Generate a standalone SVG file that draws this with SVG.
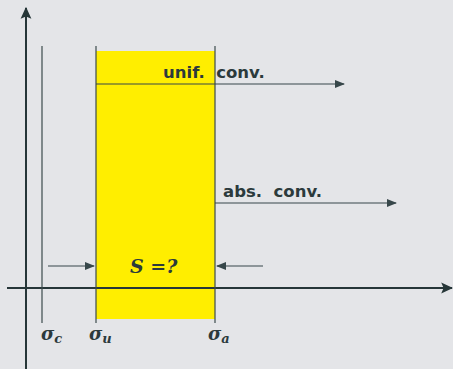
<svg xmlns="http://www.w3.org/2000/svg" width="453" height="369" viewBox="0 0 453 369">
<style>
.ax{stroke:#263638;stroke-width:2;fill:none}
.ln{stroke:#3c4a4c;stroke-width:1.2;fill:none}
.ar{stroke:#37474a;stroke-width:1.2;fill:none}
.lbl{font-family:"DejaVu Sans",sans-serif;font-weight:bold;font-size:16.5px;fill:#2c3a3c;white-space:pre}
.math{font-family:"DejaVu Serif",serif;font-style:italic;font-weight:bold;fill:#2c3a3c}
</style>
<defs>
<marker id="ah" viewBox="0 0 10 10" refX="9" refY="5" markerWidth="10" markerHeight="10" markerUnits="userSpaceOnUse" orient="auto"><path d="M0,1 L10,5 L0,9 Z" fill="#37474a"/></marker>
<marker id="axh" viewBox="0 0 10 10" refX="9" refY="5" markerWidth="12" markerHeight="12" markerUnits="userSpaceOnUse" orient="auto"><path d="M0,0.5 L10,5 L0,9.5 L2,5 Z" fill="#263638"/></marker>
</defs>
<rect width="453" height="369" fill="#e4e5e8"/>
<g id="region"><rect x="96" y="51" width="119" height="268" fill="#ffee00"/></g>
<g id="axes">
<line class="ax" x1="26" y1="369" x2="26" y2="8" marker-end="url(#axh)"/>
<line class="ax" x1="7" y1="288" x2="452" y2="288" marker-end="url(#axh)"/>
</g>
<g id="verticals">
<line class="ln" x1="42" y1="46" x2="42" y2="323"/>
<line class="ln" x1="96" y1="46" x2="96" y2="323"/>
<line class="ln" x1="215" y1="46" x2="215" y2="323"/>
</g>
<g id="connectors">
<line class="ar" x1="96" y1="84" x2="344" y2="84" marker-end="url(#ah)"/>
<line class="ar" x1="215" y1="203" x2="396" y2="203" marker-end="url(#ah)"/>
<line class="ar" x1="48" y1="266" x2="94" y2="266" marker-end="url(#ah)"/>
<line class="ar" x1="263" y1="266" x2="217" y2="266" marker-end="url(#ah)"/>
</g>
<g id="labels">
<text class="lbl" x="163" y="78" xml:space="preserve">unif.  conv.</text>
<text class="lbl" x="223" y="197" xml:space="preserve">abs.  conv.</text>
<text class="math" x="130" y="273" font-size="19">S =?</text>
<text class="math" x="41" y="340" font-size="18">σ<tspan font-size="13" dy="3">c</tspan></text>
<text class="math" x="89" y="340" font-size="18">σ<tspan font-size="13" dy="3">u</tspan></text>
<text class="math" x="208" y="340" font-size="18">σ<tspan font-size="13" dy="3">a</tspan></text>
</g>
</svg>
